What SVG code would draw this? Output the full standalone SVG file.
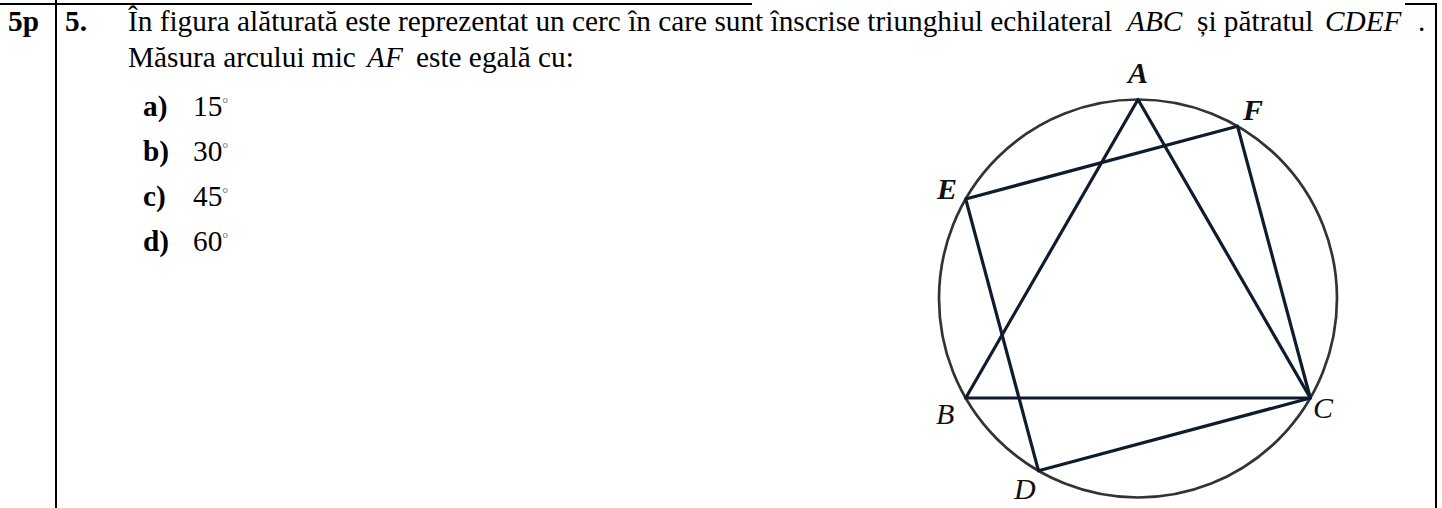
<svg xmlns="http://www.w3.org/2000/svg" width="1442" height="508" viewBox="0 0 1442 508">
<style>
.t{font-family:"Liberation Serif","Times New Roman",serif;font-size:29.3px;fill:#000}
.b{font-weight:bold}
.i{font-style:italic}
.deg{font-size:15px;fill:#666}
.lbl{font-family:"Liberation Serif","Times New Roman",serif;font-size:30px;font-style:italic;fill:#111}
.rule{stroke:#000;stroke-width:2;fill:none}
.poly{stroke:#0f1c2e;stroke-width:3.2;fill:none;stroke-linejoin:round}
</style>
<rect width="1442" height="508" fill="#fff"/>
<g id="table">
<line class="rule" x1="0" y1="4" x2="752" y2="4"/>
<line class="rule" x1="1405" y1="4" x2="1437" y2="4"/>
<line class="rule" x1="56" y1="0" x2="56" y2="508"/>
<line class="rule" x1="1436" y1="4" x2="1436" y2="508"/>
</g>
<g id="question">
<text class="t b" x="8" y="31">5p</text>
<text class="t b" x="65" y="31">5.</text>
<text class="t" x="128" y="31">În figura alăturată este reprezentat un cerc în care sunt înscrise triunghiul echilateral</text>
<text class="t i" x="1127" y="31">ABC</text>
<text class="t" x="1197" y="31">și pătratul</text>
<text class="t i" x="1325" y="31">CDEF</text>
<text class="t" x="1418" y="31">.</text>
<text class="t" x="128" y="67">Măsura arcului mic</text>
<text class="t i" x="367" y="67">AF</text>
<text class="t" x="416" y="67">este egală cu:</text>
</g>
<g id="options">
<text class="t b" x="143" y="116">a)</text>
<text class="t" x="193" y="116">15<tspan class="deg" dy="-8">°</tspan></text>
<text class="t b" x="143" y="161">b)</text>
<text class="t" x="193" y="161">30<tspan class="deg" dy="-8">°</tspan></text>
<text class="t b" x="143" y="206">c)</text>
<text class="t" x="193" y="206">45<tspan class="deg" dy="-8">°</tspan></text>
<text class="t b" x="143" y="251">d)</text>
<text class="t" x="193" y="251">60<tspan class="deg" dy="-8">°</tspan></text>
</g>
<g id="figure">
<circle cx="1138" cy="298.5" r="199" fill="none" stroke="#333" stroke-width="2.7"/>
<g id="triangle-ABC"><polygon class="poly" points="1138,99.5 965.7,398 1310.3,398"/></g>
<g id="square-CDEF"><polygon class="poly" points="1310.3,398 1038.5,470.8 965.7,199 1237.5,126.2"/></g>
<g id="labels">
<text class="lbl" font-weight="bold" x="1138" y="83" text-anchor="middle">A</text>
<text class="lbl" font-weight="bold" x="1243" y="120">F</text>
<text class="lbl" font-weight="bold" x="937" y="199">E</text>
<text class="lbl" x="936" y="424">B</text>
<text class="lbl" x="1313" y="418">C</text>
<text class="lbl" x="1014" y="499">D</text>
</g>
</g>
</svg>
